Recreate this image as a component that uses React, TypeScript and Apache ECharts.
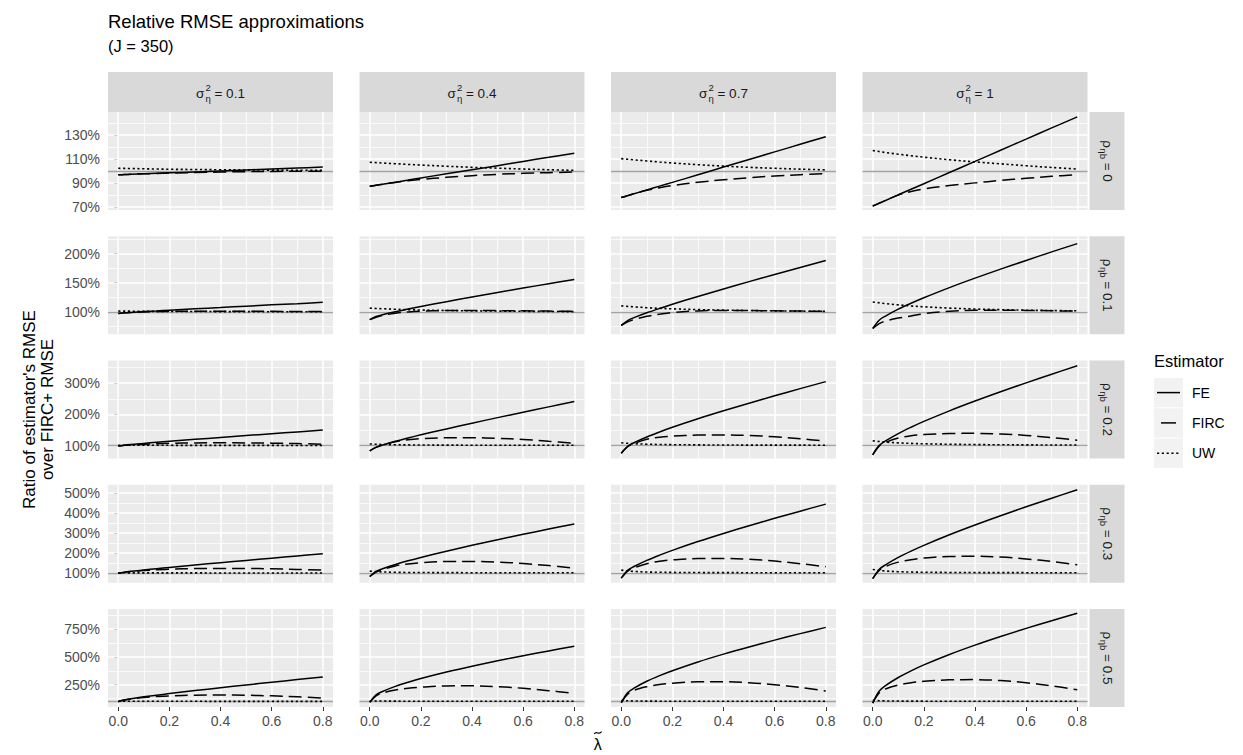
import React, { useEffect, useRef } from "react";
import * as echarts from "echarts";

// ---------- data ----------
const lambdaTilde = [0, 0.025, 0.05, 0.1, 0.15, 0.2, 0.3, 0.4, 0.5, 0.6, 0.7, 0.8];
const sigmaEta2 = ["0.1", "0.4", "0.7", "1"];
const rhoEtaB = ["0", "0.1", "0.2", "0.3", "0.5"];
const estimators = ["FE", "FIRC", "UW"];
const xTicks = [0, 0.2, 0.4, 0.6, 0.8];
const xMinor = [0.1, 0.3, 0.5, 0.7];

// rho = 0
const feRho0 = [
  [96.9, 97.1, 97.3, 97.7, 98.1, 98.5, 99.3, 100.1, 100.9, 101.7, 102.5, 103.3],
  [87.4, 88.3, 89.1, 90.8, 92.5, 94.3, 97.7, 101.1, 104.5, 108.0, 111.4, 114.8],
  [78.0, 79.6, 81.2, 84.3, 87.5, 90.6, 96.9, 103.3, 109.6, 115.9, 122.2, 128.5],
  [71.0, 73.3, 75.6, 80.3, 84.9, 89.5, 98.8, 108.0, 117.3, 126.5, 135.8, 145.0],
];
const fircRho0 = [
  [96.9, 97.1, 97.3, 97.7, 98.0, 98.3, 98.8, 99.2, 99.5, 99.7, 99.8, 99.9],
  [87.4, 88.3, 89.1, 90.6, 91.9, 93.0, 94.8, 96.2, 97.3, 98.1, 98.7, 99.2],
  [78.0, 79.6, 81.2, 84.0, 86.2, 88.0, 90.7, 92.8, 94.5, 95.9, 97.0, 97.9],
  [71.0, 73.3, 75.6, 80.2, 83.0, 85.2, 88.0, 90.2, 92.2, 94.0, 95.6, 97.0],
];
const uwRho0 = [
  [102.3, 102.2, 102.1, 101.9, 101.7, 101.5, 101.3, 101.1, 100.9, 100.8, 100.7, 100.6],
  [107.3, 107.0, 106.7, 106.1, 105.5, 105.0, 104.0, 103.1, 102.4, 101.7, 101.1, 100.6],
  [110.3, 109.8, 109.3, 108.4, 107.5, 106.7, 105.3, 104.1, 103.1, 102.3, 101.6, 101.0],
  [117.0, 116.2, 115.4, 114.0, 112.7, 111.5, 109.4, 107.6, 106.0, 104.4, 103.0, 101.7],
];
const yLimRho0 = [67.7, 149];
const yTicksRho0 = [70, 90, 110, 130];
const yMinorRho0 = [80, 100, 120, 140];

// rho = 0.1
const feRho01 = [
  [97.3, 98.5, 99.2, 100.6, 101.8, 103.0, 105.4, 107.6, 109.9, 112.1, 114.2, 116.4],
  [86.9, 92.1, 95.1, 100.2, 104.9, 109.3, 117.6, 125.6, 133.3, 140.9, 148.3, 155.7],
  [77.0, 85.3, 90.2, 98.5, 106.0, 113.1, 126.5, 139.4, 151.9, 164.1, 176.1, 188.0],
  [71.6, 85.7, 93.0, 104.7, 114.9, 124.3, 141.7, 157.9, 173.3, 188.2, 202.8, 217.0],
];
const fircRho01 = [
  [97.3, 98.4, 99.1, 100.0, 100.6, 101.0, 101.3, 101.3, 101.2, 101.0, 100.8, 100.6],
  [86.9, 91.0, 94.0, 97.8, 100.0, 101.3, 102.3, 102.5, 102.3, 101.9, 101.4, 101.0],
  [77.0, 83.0, 87.0, 92.5, 96.0, 99.0, 101.8, 102.5, 102.4, 102.0, 101.5, 101.0],
  [71.6, 80.0, 84.5, 89.5, 93.0, 97.0, 101.0, 102.8, 103.0, 102.6, 102.0, 101.3],
];
const uwRho01 = [
  [101.5, 101.4, 101.3, 101.1, 101.0, 100.9, 100.7, 100.6, 100.5, 100.4, 100.3, 100.2],
  [106.6, 106.0, 105.5, 104.6, 103.9, 103.3, 102.5, 101.9, 101.5, 101.1, 100.8, 100.5],
  [110.4, 109.5, 108.7, 107.3, 106.2, 105.3, 104.0, 103.1, 102.4, 101.9, 101.4, 101.0],
  [117.0, 115.6, 114.3, 112.1, 110.3, 108.8, 106.6, 105.0, 103.9, 103.0, 102.4, 101.9],
];
const yLimRho01 = [61.8, 229.6];
const yTicksRho01 = [100, 150, 200];
const yMinorRho01 = [75, 125, 175, 225];

// rho = 0.2
const feRho02 = [
  [98.0, 101.1, 103.2, 106.8, 110.2, 113.5, 119.8, 125.9, 131.9, 137.8, 143.7, 149.5],
  [82.8, 94.6, 101.6, 113.4, 124.1, 134.2, 153.3, 171.7, 189.5, 206.9, 224.0, 240.9],
  [75.0, 97.3, 108.8, 127.4, 143.5, 158.4, 185.8, 211.4, 235.9, 259.5, 282.5, 305.0],
  [70.0, 99.7, 114.7, 138.4, 158.7, 177.3, 211.2, 242.6, 272.4, 301.1, 328.9, 356.0],
];
const fircRho02 = [
  [98.0, 100.5, 101.8, 104.2, 105.8, 106.9, 108.2, 108.6, 108.4, 107.6, 106.2, 104.3],
  [82.8, 94.0, 101.0, 112.0, 118.5, 122.0, 124.8, 125.0, 123.0, 119.5, 113.5, 107.5],
  [75.0, 96.0, 106.0, 120.0, 126.5, 130.0, 133.5, 134.0, 132.0, 128.0, 121.5, 114.5],
  [70.0, 98.0, 110.0, 124.0, 131.0, 135.0, 138.5, 139.0, 137.0, 132.5, 125.5, 117.0],
];
const uwRho02 = [
  [100.9, 100.9, 100.8, 100.8, 100.7, 100.6, 100.5, 100.4, 100.3, 100.3, 100.2, 100.2],
  [105.0, 104.0, 103.3, 102.4, 101.9, 101.6, 101.2, 101.0, 100.9, 100.8, 100.7, 100.7],
  [108.6, 107.0, 105.8, 104.2, 103.3, 102.7, 102.0, 101.6, 101.3, 101.2, 101.1, 101.0],
  [115.0, 112.8, 111.0, 108.5, 106.8, 105.6, 104.0, 103.0, 102.4, 102.0, 101.7, 101.5],
];
const yLimRho02 = [58.3, 372.8];
const yTicksRho02 = [100, 200, 300];
const yMinorRho02 = [150, 250, 350];

// rho = 0.3
const feRho03 = [
  [99.0, 104.9, 108.8, 115.7, 122.2, 128.4, 140.4, 152.1, 163.5, 174.8, 185.9, 197.0],
  [83.0, 108.5, 121.6, 142.9, 161.4, 178.3, 209.7, 239.0, 267.0, 294.0, 320.3, 346.0],
  [75.0, 113.5, 132.8, 163.5, 189.8, 213.8, 257.7, 298.3, 336.9, 374.0, 409.9, 445.0],
  [72.0, 118.3, 141.6, 178.5, 210.1, 238.9, 291.7, 340.6, 387.0, 431.6, 474.8, 517.0],
];
const fircRho03 = [
  [99.0, 104.0, 107.5, 112.5, 116.5, 119.5, 122.5, 123.5, 123.0, 121.5, 118.5, 115.0],
  [83.0, 105.0, 118.0, 136.0, 146.0, 152.0, 158.0, 158.5, 155.0, 148.0, 137.5, 125.0],
  [75.0, 110.0, 126.0, 147.0, 159.0, 166.0, 173.0, 173.5, 169.0, 160.0, 147.0, 132.0],
  [72.0, 113.0, 133.0, 155.0, 167.0, 175.0, 183.0, 184.0, 180.0, 171.0, 158.0, 142.0],
];
const uwRho03 = [
  [101.5, 101.4, 101.3, 101.2, 101.1, 101.0, 100.9, 100.8, 100.7, 100.6, 100.5, 100.5],
  [110.0, 107.5, 105.8, 104.0, 103.2, 102.8, 102.3, 102.0, 101.8, 101.7, 101.6, 101.5],
  [115.0, 111.0, 108.5, 105.5, 104.2, 103.5, 102.7, 102.3, 102.0, 101.8, 101.7, 101.6],
  [118.0, 113.5, 110.5, 107.0, 105.3, 104.3, 103.2, 102.7, 102.3, 102.1, 101.9, 101.8],
];
const yLimRho03 = [51.7, 542];
const yTicksRho03 = [100, 200, 300, 400, 500];
const yMinorRho03 = [150, 250, 350, 450];

// rho = 0.5
const feRho05 = [
  [98.0, 114.6, 124.4, 141.0, 156.0, 170.2, 197.1, 222.8, 247.8, 272.2, 296.3, 320.0],
  [92.0, 159.0, 189.5, 235.4, 272.8, 305.8, 364.2, 416.4, 464.7, 510.1, 553.4, 595.0],
  [88.0, 178.1, 219.2, 280.9, 331.3, 375.7, 454.4, 524.7, 589.6, 650.7, 709.0, 765.0],
  [85.0, 192.4, 241.4, 315.0, 375.0, 428.0, 521.7, 605.5, 682.9, 755.8, 825.3, 892.0],
];
const fircRho05 = [
  [98.0, 112.0, 121.0, 135.0, 144.0, 150.0, 156.0, 157.5, 155.5, 150.0, 141.0, 130.0],
  [92.0, 150.0, 175.0, 202.0, 218.0, 228.0, 239.0, 240.0, 233.0, 218.0, 197.0, 172.0],
  [88.0, 165.0, 200.0, 232.0, 252.0, 264.0, 276.0, 277.0, 268.0, 250.0, 225.0, 194.0],
  [85.0, 175.0, 212.0, 248.0, 268.0, 281.0, 294.0, 296.0, 287.0, 268.0, 240.0, 205.0],
];
const uwRho05 = [
  [102.0, 101.8, 101.6, 101.4, 101.2, 101.1, 101.0, 100.9, 100.8, 100.7, 100.6, 100.5],
  [106.0, 104.5, 103.5, 102.5, 102.0, 101.8, 101.5, 101.3, 101.2, 101.1, 101.0, 101.0],
  [108.0, 105.5, 104.0, 102.8, 102.3, 102.0, 101.7, 101.5, 101.4, 101.3, 101.2, 101.2],
  [110.0, 106.5, 104.8, 103.3, 102.7, 102.3, 102.0, 101.8, 101.7, 101.6, 101.5, 101.5],
];
const yLimRho05 = [50, 930];
const yTicksRho05 = [250, 500, 750];
const yMinorRho05 = [125, 375, 625, 875];

const referenceValue = 100;

// ---------- layout / style ----------
const FONT = '"Liberation Sans", Arial, Helvetica, sans-serif';
const PANEL_W = 225;
const PANEL_H = 98;
const colLeft = (c: number) => 108 + c * 251.5;
const rowTop = (r: number) => 112 + r * 124.25;
const AXIS_FS = 14;
const STRIP_FS = 13.5;

const rows = [
  { fe: feRho0, firc: fircRho0, uw: uwRho0, lim: yLimRho0, ticks: yTicksRho0, minor: yMinorRho0 },
  { fe: feRho01, firc: fircRho01, uw: uwRho01, lim: yLimRho01, ticks: yTicksRho01, minor: yMinorRho01 },
  { fe: feRho02, firc: fircRho02, uw: uwRho02, lim: yLimRho02, ticks: yTicksRho02, minor: yMinorRho02 },
  { fe: feRho03, firc: fircRho03, uw: uwRho03, lim: yLimRho03, ticks: yTicksRho03, minor: yMinorRho03 },
  { fe: feRho05, firc: fircRho05, uw: uwRho05, lim: yLimRho05, ticks: yTicksRho05, minor: yMinorRho05 },
];

const lineStyles: Record<string, any> = {
  FE: { color: "#000000", width: 1.5, type: "solid" },
  FIRC: { color: "#000000", width: 1.5, type: [13, 6] },
  UW: { color: "#000000", width: 1.6, type: [2.2, 2.6] },
};

let measureCtx: CanvasRenderingContext2D | null = null;
function tw(text: string, size: number) {
  if (!measureCtx) measureCtx = document.createElement("canvas").getContext("2d");
  if (!measureCtx) return text.length * size * 0.55;
  measureCtx.font = `${size}px ${FONT}`;
  return measureCtx.measureText(text).width;
}

function txt(x: number, y: number, text: string, size: number, fill: string, align = "left", vAlign = "middle", extra: any = {}) {
  return {
    type: "text",
    x,
    y,
    silent: true,
    ...extra,
    style: {
      text,
      fontSize: size,
      fontFamily: FONT,
      fill,
      align,
      verticalAlign: vAlign,
      textAlign: align,
      textVerticalAlign: vAlign,
    },
  };
}

function buildOption() {
  const grids: any[] = [];
  const xAxes: any[] = [];
  const yAxes: any[] = [];
  const series: any[] = [];

  rows.forEach((row, r) => {
    for (let c = 0; c < sigmaEta2.length; c++) {
      const idx = r * sigmaEta2.length + c;
      const bottom = r === rows.length - 1;
      grids.push({
        left: colLeft(c),
        top: rowTop(r),
        width: PANEL_W,
        height: PANEL_H,
        show: true,
        backgroundColor: "#EBEBEB",
        borderWidth: 0,
        containLabel: false,
      });
      xAxes.push({
        type: "value",
        gridIndex: idx,
        min: -0.04,
        max: 0.84,
        axisLine: { show: false },
        splitLine: { show: false },
        axisTick: { show: bottom, length: 4, lineStyle: { color: "#333333", width: 1 }, customValues: xTicks },
        axisLabel: {
          show: bottom,
          customValues: xTicks,
          formatter: (v: number) => v.toFixed(1),
          color: "#4D4D4D",
          fontSize: AXIS_FS,
          fontFamily: FONT,
          margin: 7,
        },
      });
      yAxes.push({
        type: "value",
        gridIndex: idx,
        min: row.lim[0],
        max: row.lim[1],
        axisLine: { show: false },
        splitLine: { show: false },
        axisTick: { show: c === 0, length: 4, lineStyle: { color: "#333333", width: 1 }, customValues: row.ticks },
        axisLabel: {
          show: c === 0,
          customValues: row.ticks,
          formatter: (v: number) => `${v}%`,
          color: "#4D4D4D",
          fontSize: AXIS_FS,
          fontFamily: FONT,
          margin: 8,
        },
      });

      const major = { color: "#FFFFFF", width: 1.5, type: "solid" };
      const minor = { color: "#FFFFFF", width: 0.75, type: "solid" };
      const mlData: any[] = [];
      xMinor.forEach((v) => mlData.push({ xAxis: v, lineStyle: minor }));
      row.minor.forEach((v) => mlData.push({ yAxis: v, lineStyle: minor }));
      xTicks.forEach((v) => mlData.push({ xAxis: v, lineStyle: major }));
      row.ticks.forEach((v) => mlData.push({ yAxis: v, lineStyle: major }));
      mlData.push({ yAxis: referenceValue, lineStyle: { color: "#A3A3A3", width: 1.3, type: "solid" } });

      series.push({
        type: "line",
        name: "grid",
        xAxisIndex: idx,
        yAxisIndex: idx,
        data: [[0.4, row.lim[0]]],
        symbol: "none",
        lineStyle: { width: 0, opacity: 0 },
        silent: true,
        z: 1,
        markLine: {
          z: 1,
          silent: true,
          symbol: ["none", "none"],
          label: { show: false },
          emphasis: { disabled: true },
          animation: false,
          precision: 4,
          data: mlData,
        },
      });

      const sets: Record<string, number[]> = { FE: row.fe[c], FIRC: row.firc[c], UW: row.uw[c] };
      estimators.forEach((est) => {
        series.push({
          type: "line",
          name: est,
          xAxisIndex: idx,
          yAxisIndex: idx,
          data: lambdaTilde.map((x, i) => [x, sets[est][i]]),
          symbol: "none",
          smooth: 0.35,
          silent: true,
          z: 10,
          lineStyle: { ...lineStyles[est], cap: "butt" },
        });
      });
    }
  });

  const graphic: any[] = [];
  // titles
  graphic.push(txt(108, 21, "Relative RMSE approximations", 18.5, "#000000"));
  graphic.push(txt(108, 46, "(J = 350)", 16.5, "#000000"));

  // top strips
  sigmaEta2.forEach((val, c) => {
    const x = colLeft(c);
    graphic.push({ type: "rect", silent: true, shape: { x, y: 72, width: PANEL_W, height: 40 }, style: { fill: "#D9D9D9" } });
    const cx = x + PANEL_W / 2;
    const cy = 92;
    const small = 9.5;
    const wS = tw("σ", STRIP_FS);
    const wSm = Math.max(tw("2", small), tw("η", small));
    const rest = " = " + val;
    const wR = tw(rest, STRIP_FS);
    const total = wS + 1 + wSm + wR;
    const x0 = cx - total / 2;
    graphic.push(txt(x0, cy + 1, "σ", STRIP_FS, "#1A1A1A"));
    graphic.push(txt(x0 + wS + 1, cy - 5, "2", small, "#1A1A1A"));
    graphic.push(txt(x0 + wS + 1, cy + 6, "η", small, "#1A1A1A"));
    graphic.push(txt(x0 + wS + 1 + wSm, cy + 1, rest, STRIP_FS, "#1A1A1A"));
  });

  // right strips
  const stripX = colLeft(3) + PANEL_W + 2;
  rhoEtaB.forEach((val, r) => {
    const y = rowTop(r);
    graphic.push({ type: "rect", silent: true, shape: { x: stripX, y, width: 35, height: PANEL_H }, style: { fill: "#D9D9D9" } });
    const small = 9.5;
    const wRho = tw("ρ", STRIP_FS);
    const wSub = tw("ηb", small);
    const rest = " = " + val;
    const wR = tw(rest, STRIP_FS);
    const total = wRho + 0.5 + wSub + wR;
    const x0 = -total / 2;
    graphic.push({
      type: "group",
      x: stripX + 17.5,
      y: y + PANEL_H / 2,
      rotation: -Math.PI / 2,
      silent: true,
      children: [
        txt(x0, 0, "ρ", STRIP_FS, "#1A1A1A"),
        txt(x0 + wRho + 0.5, 4, "ηb", small, "#1A1A1A"),
        txt(x0 + wRho + 0.5 + wSub, 0, rest, STRIP_FS, "#1A1A1A"),
      ],
    });
  });

  // axis titles
  const yMid = (rowTop(0) + rowTop(4) + PANEL_H) / 2;
  graphic.push(txt(29, yMid, "Ratio of estimator's RMSE", 17, "#000000", "center", "middle", { rotation: Math.PI / 2 }));
  graphic.push(txt(47.5, yMid, "over FIRC+ RMSE", 17, "#000000", "center", "middle", { rotation: Math.PI / 2 }));
  const xMid = (colLeft(0) + colLeft(3) + PANEL_W) / 2;
  graphic.push(txt(xMid, 744, "\u03BB", 16, "#000000", "center", "middle"));
  graphic.push({
    type: "bezierCurve",
    silent: true,
    shape: { x1: xMid - 3.5, y1: 734, cpx1: xMid - 1.5, cpy1: 730, cpx2: xMid + 1.5, cpy2: 736, x2: xMid + 3.8, y2: 731.5 },
    style: { stroke: "#000000", lineWidth: 1.1, fill: null },
  });

  // legend
  const lx = 1154;
  graphic.push(txt(lx, 361, "Estimator", 16.5, "#000000"));
  estimators.forEach((est, i) => {
    const ky = 378 + i * 30.3;
    graphic.push({ type: "rect", silent: true, shape: { x: lx, y: ky, width: 29, height: 29.3 }, style: { fill: "#F2F2F2" } });
    const cyk = ky + 14.6;
    let x1 = lx + 3;
    let x2 = lx + 26;
    let dash: any = null;
    if (est === "FIRC") {
      x1 = lx + 7;
      x2 = lx + 22;
    }
    if (est === "UW") dash = [2.2, 2.6];
    graphic.push({
      type: "line",
      silent: true,
      shape: { x1, y1: cyk, x2, y2: cyk },
      style: { stroke: "#000000", lineWidth: 1.5, lineDash: dash, lineCap: "butt" },
    });
    graphic.push(txt(lx + 38, cyk, est, AXIS_FS, "#000000"));
  });

  return {
    animation: false,
    backgroundColor: "#FFFFFF",
    grid: grids,
    xAxis: xAxes,
    yAxis: yAxes,
    series,
    graphic: { elements: graphic },
  };
}

export default function App() {
  const ref = useRef<HTMLDivElement>(null);
  useEffect(() => {
    if (!ref.current) return;
    const chart = echarts.init(ref.current, undefined, { renderer: "svg" });
    chart.setOption(buildOption() as any);
    return () => chart.dispose();
  }, []);
  return (
    <div
      ref={ref}
      style={{ position: "absolute", left: 0, top: 0, width: 1243, height: 755, background: "#FFFFFF" }}
    />
  );
}
